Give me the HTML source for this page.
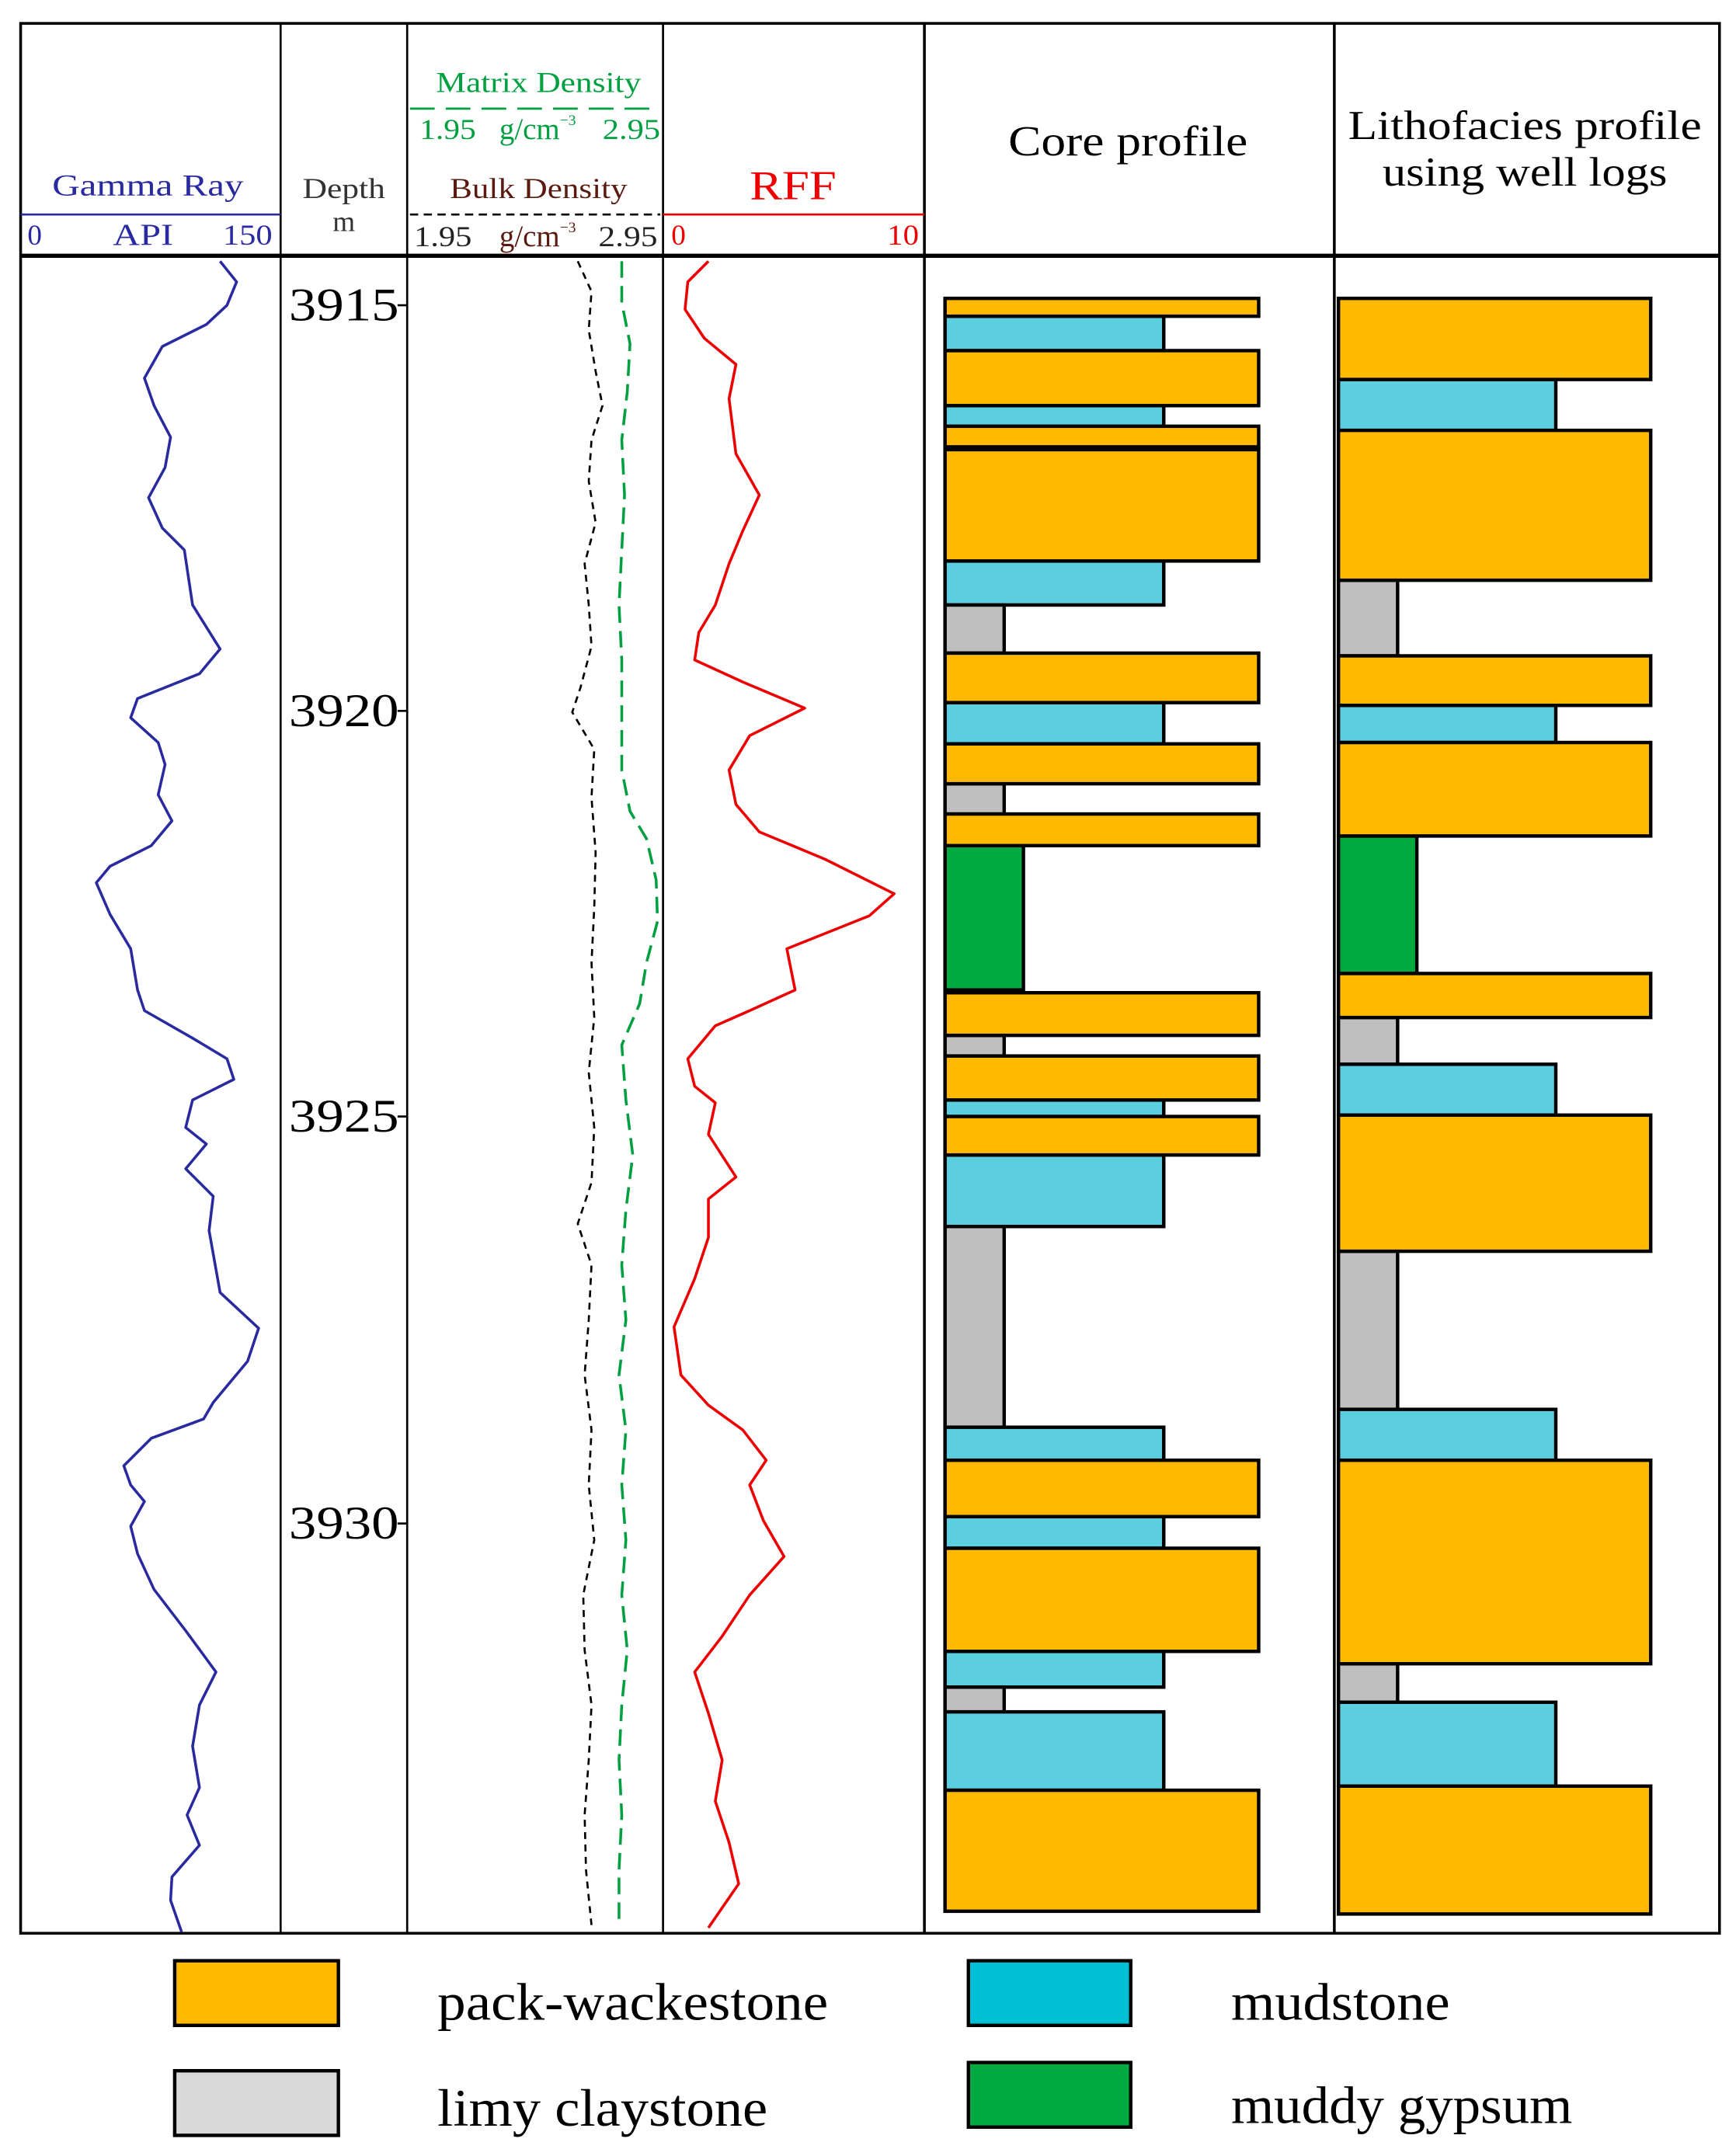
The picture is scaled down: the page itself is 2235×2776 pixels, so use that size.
<!DOCTYPE html>
<html><head><meta charset="utf-8"><style>html,body{margin:0;padding:0;background:#fff}svg{display:block}</style></head>
<body>
<svg xmlns="http://www.w3.org/2000/svg" width="2235" height="2776" viewBox="0 0 1262 1568" preserveAspectRatio="none" font-family="'Liberation Serif', serif">
<rect width="1262" height="1568" fill="#fff"/>
<g stroke="#000" fill="none">
<rect x="15" y="17" width="1235" height="1389" stroke-width="2"/>
<line x1="15" y1="186" x2="1250" y2="186" stroke-width="3"/>
<line x1="204" y1="17" x2="204" y2="1406" stroke-width="1.5"/>
<line x1="296" y1="17" x2="296" y2="1406" stroke-width="1.5"/>
<line x1="482" y1="17" x2="482" y2="1406" stroke-width="1.5"/>
<line x1="672" y1="17" x2="672" y2="1406" stroke-width="2"/>
<line x1="970" y1="17" x2="970" y2="1406" stroke-width="2"/>
</g>
<line x1="15" y1="156" x2="204" y2="156" stroke="#2a2aa0" stroke-width="1.5"/>
<line x1="482" y1="156" x2="672" y2="156" stroke="#e00" stroke-width="1.5"/>
<line x1="298" y1="156" x2="480" y2="156" stroke="#000" stroke-width="1.5" stroke-dasharray="6,4"/>
<line x1="298" y1="79" x2="480" y2="79" stroke="#00a040" stroke-width="1.5" stroke-dasharray="18,8"/>
<g font-size="22" lengthAdjust="spacingAndGlyphs">
<text x="38" y="142" textLength="139" lengthAdjust="spacingAndGlyphs" fill="#2a2aa0">Gamma Ray</text>
<text x="20" y="178" fill="#2a2aa0" font-size="21">0</text>
<text x="82" y="178" textLength="44" lengthAdjust="spacingAndGlyphs" fill="#2a2aa0">API</text>
<text x="162" y="178" textLength="36" lengthAdjust="spacingAndGlyphs" fill="#2a2aa0" font-size="21">150</text>
<text x="220" y="144" textLength="60" lengthAdjust="spacingAndGlyphs" fill="#333" font-size="21">Depth</text>
<text x="250" y="168" text-anchor="middle" fill="#333" font-size="21">m</text>
<text x="317" y="67" textLength="149" lengthAdjust="spacingAndGlyphs" fill="#00a040" font-size="21">Matrix Density</text>
<text x="305" y="101" textLength="41" lengthAdjust="spacingAndGlyphs" fill="#00a040" font-size="21">1.95</text>
<text x="363" y="101" fill="#00a040" font-size="22">g/cm<tspan font-size="11" dy="-10">−3</tspan></text>
<text x="438" y="101" textLength="42" lengthAdjust="spacingAndGlyphs" fill="#00a040" font-size="21">2.95</text>
<text x="327" y="144" textLength="129" lengthAdjust="spacingAndGlyphs" fill="#5a1a10" font-size="21">Bulk Density</text>
<text x="301" y="179" textLength="42" lengthAdjust="spacingAndGlyphs" fill="#222" font-size="21">1.95</text>
<text x="363" y="179" fill="#5a1a10" font-size="22">g/cm<tspan font-size="11" dy="-10">−3</tspan></text>
<text x="435" y="179" textLength="43" lengthAdjust="spacingAndGlyphs" fill="#222" font-size="21">2.95</text>
<text x="545" y="145" textLength="63" lengthAdjust="spacingAndGlyphs" fill="#e00" font-size="30">RFF</text>
<text x="488" y="178" fill="#e00" font-size="21">0</text>
<text x="645" y="178" textLength="23" lengthAdjust="spacingAndGlyphs" fill="#e00" font-size="21">10</text>
<text x="733" y="113" textLength="174" lengthAdjust="spacingAndGlyphs" fill="#000" font-size="31">Core profile</text>
<text x="980" y="101" textLength="257" lengthAdjust="spacingAndGlyphs" fill="#000" font-size="30">Lithofacies profile</text>
<text x="1005" y="135" textLength="207" lengthAdjust="spacingAndGlyphs" fill="#000" font-size="30">using well logs</text>
</g>
<g font-size="34" fill="#000">
<text x="210" y="233" textLength="80" lengthAdjust="spacingAndGlyphs">3915</text><text x="210" y="528" textLength="80" lengthAdjust="spacingAndGlyphs">3920</text><text x="210" y="823" textLength="80" lengthAdjust="spacingAndGlyphs">3925</text><text x="210" y="1119" textLength="80" lengthAdjust="spacingAndGlyphs">3930</text>
</g>
<g stroke="#000" stroke-width="1.5">
<line x1="289" y1="222" x2="296" y2="222"/><line x1="289" y1="517" x2="296" y2="517"/><line x1="289" y1="812" x2="296" y2="812"/><line x1="289" y1="1108" x2="296" y2="1108"/>
</g>
<polyline fill="none" stroke="#2a2aa0" stroke-width="2" stroke-linejoin="round" points="160,190 172,205 165,222 150,236 118,252 105,275 112,295 124,318 120,340 108,362 118,384 134,400 140,440 160,472 145,490 100,508 95,522 115,540 120,556 115,578 125,597 110,615 80,630 70,642 80,665 95,690 100,720 105,735 140,755 165,770 170,785 140,800 135,820 150,832 135,850 155,870 152,895 160,940 188,966 180,990 155,1020 148,1032 110,1046 90,1066 95,1080 105,1092 95,1110 100,1130 112,1156 135,1186 157,1216 145,1240 140,1270 145,1300 136,1320 145,1342 125,1365 124,1382 132,1405"/>
<polyline fill="none" stroke="#e00" stroke-width="2" stroke-linejoin="round" points="515,190 500,205 498,225 512,246 535,265 530,290 535,330 552,360 540,386 530,410 520,440 508,460 505,480 540,496 585,515 545,535 530,560 535,585 552,605 600,625 650,650 632,666 572,690 578,720 545,735 520,746 500,770 505,790 520,802 515,825 535,856 515,872 515,900 505,930 490,965 495,1000 515,1022 540,1040 557,1062 545,1080 555,1106 570,1132 545,1160 525,1190 505,1216 515,1246 525,1280 520,1310 530,1340 537,1370 515,1402"/>
<polyline fill="none" stroke="#000" stroke-width="1.5" stroke-dasharray="5,4" points="420,190 430,212 428,240 433,270 438,295 430,320 428,350 433,380 425,410 428,440 430,470 422,500 416,518 432,545 430,580 433,620 432,660 430,700 432,740 428,780 432,820 430,860 420,890 430,920 428,960 425,1000 430,1040 428,1080 432,1120 424,1160 425,1200 430,1240 428,1280 425,1320 426,1360 430,1400"/>
<polyline fill="none" stroke="#00a040" stroke-width="2" stroke-dasharray="12,6" points="452,190 452,220 458,250 456,285 452,320 454,360 452,400 450,440 452,480 452,520 452,560 458,590 470,610 477,640 478,670 470,700 465,730 452,760 455,800 460,840 455,880 452,920 455,960 450,1000 455,1040 452,1080 455,1120 452,1160 456,1200 452,1240 450,1280 452,1320 450,1360 450,1400"/>
<g stroke="#000" stroke-width="2.5">
<rect x="687" y="230" width="159" height="25" fill="#5BCFE0"/>
<rect x="687" y="295" width="159" height="15" fill="#5BCFE0"/>
<rect x="687" y="408" width="159" height="32" fill="#5BCFE0"/>
<rect x="687" y="440" width="43" height="35" fill="#BFBFBF"/>
<rect x="687" y="511" width="159" height="30" fill="#5BCFE0"/>
<rect x="687" y="570" width="43" height="22" fill="#BFBFBF"/>
<rect x="687" y="615" width="57" height="105" fill="#00AA40"/>
<rect x="687" y="753" width="43" height="15" fill="#BFBFBF"/>
<rect x="687" y="800" width="159" height="12" fill="#5BCFE0"/>
<rect x="687" y="840" width="159" height="52" fill="#5BCFE0"/>
<rect x="687" y="892" width="43" height="146" fill="#BFBFBF"/>
<rect x="687" y="1038" width="159" height="24" fill="#5BCFE0"/>
<rect x="687" y="1103" width="159" height="23" fill="#5BCFE0"/>
<rect x="687" y="1201" width="159" height="26" fill="#5BCFE0"/>
<rect x="687" y="1227" width="43" height="18" fill="#BFBFBF"/>
<rect x="687" y="1245" width="159" height="57" fill="#5BCFE0"/>
<g fill="#FFBA00">
<rect x="687" y="217" width="228" height="13"/>
<rect x="687" y="255" width="228" height="40"/>
<rect x="687" y="310" width="228" height="15"/>
<rect x="687" y="327" width="228" height="81"/>
<rect x="687" y="475" width="228" height="36"/>
<rect x="687" y="541" width="228" height="29"/>
<rect x="687" y="592" width="228" height="23"/>
<rect x="687" y="722" width="228" height="31"/>
<rect x="687" y="768" width="228" height="32"/>
<rect x="687" y="812" width="228" height="28"/>
<rect x="687" y="1062" width="228" height="41"/>
<rect x="687" y="1126" width="228" height="75"/>
<rect x="687" y="1302" width="228" height="88"/>
</g>
<rect x="973" y="276" width="158" height="37" fill="#5BCFE0"/>
<rect x="973" y="422" width="43" height="55" fill="#BFBFBF"/>
<rect x="973" y="513" width="158" height="27" fill="#5BCFE0"/>
<rect x="973" y="608" width="57" height="100" fill="#00AA40"/>
<rect x="973" y="740" width="43" height="34" fill="#BFBFBF"/>
<rect x="973" y="774" width="158" height="37" fill="#5BCFE0"/>
<rect x="973" y="910" width="43" height="115" fill="#BFBFBF"/>
<rect x="973" y="1025" width="158" height="37" fill="#5BCFE0"/>
<rect x="973" y="1210" width="43" height="28" fill="#BFBFBF"/>
<rect x="973" y="1238" width="158" height="61" fill="#5BCFE0"/>
<g fill="#FFBA00">
<rect x="973" y="217" width="227" height="59"/>
<rect x="973" y="313" width="227" height="109"/>
<rect x="973" y="477" width="227" height="36"/>
<rect x="973" y="540" width="227" height="68"/>
<rect x="973" y="708" width="227" height="32"/>
<rect x="973" y="811" width="227" height="99"/>
<rect x="973" y="1062" width="227" height="148"/>
<rect x="973" y="1299" width="227" height="93"/>
</g>
<rect x="127" y="1426" width="119" height="47" fill="#FFBA00"/>
<rect x="127" y="1506" width="119" height="47" fill="#D9D9D9"/>
<rect x="704" y="1426" width="118" height="47" fill="#00C0D8"/>
<rect x="704" y="1500" width="118" height="47" fill="#00AA40"/>
</g>
<g font-size="38" fill="#000">
<text x="318" y="1469" textLength="284" lengthAdjust="spacingAndGlyphs">pack-wackestone</text>
<text x="318" y="1546" textLength="240" lengthAdjust="spacingAndGlyphs">limy claystone</text>
<text x="895" y="1469" textLength="159" lengthAdjust="spacingAndGlyphs">mudstone</text>
<text x="895" y="1544" textLength="248" lengthAdjust="spacingAndGlyphs">muddy gypsum</text>
</g>
</svg>
</body></html>
